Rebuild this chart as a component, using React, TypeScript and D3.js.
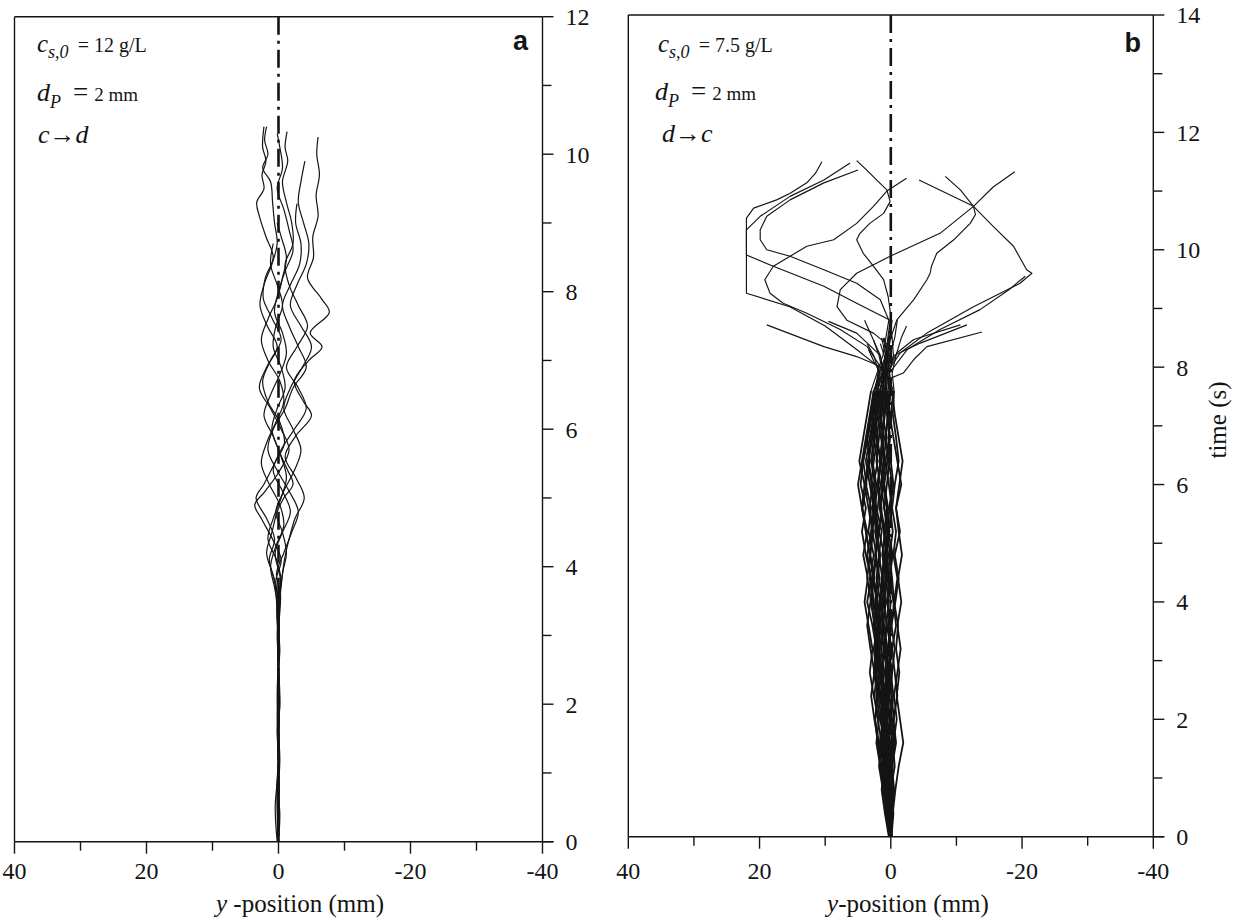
import React from "react";
import * as d3 from "d3";

const xMajorTicks = [40, 20, 0, -20, -40];
const xMinorTicks = [30, 10, -10, -30];
const yMajorTicksA = [0, 2, 4, 6, 8, 10, 12];
const yMinorTicksA = [1, 3, 5, 7, 9, 11];
const yMajorTicksB = [0, 2, 4, 6, 8, 10, 12, 14];
const yMinorTicksB = [1, 3, 5, 7, 9, 11, 13];

// panel a trajectories: [time (s), y-position (mm)]
const trajA1 = [[0,0.1],[0.4,-0.1],[0.8,0.2],[1.2,0],[1.6,0.2],[2.0,-0.1],[2.4,0.1],[2.8,-0.2],[3.2,0.2],[3.5,0.3],[3.8,0.6],[4.1,1.4],[4.4,0.6],[4.7,1.8],[5.0,3.4],[5.2,2.2],[5.5,0.6],[5.8,-0.9],[6.1,-0.2],[6.4,1.6],[6.7,2.4],[7.0,1.2],[7.3,-0.4],[7.6,0.9],[7.9,2.3],[8.2,2.0],[8.5,0.8],[8.8,1.9],[9.1,2.9],[9.3,3.3],[9.5,2.2],[9.7,2.5],[9.9,1.9],[10.1,2.4],[10.4,2.2]];
const trajA2 = [[0,0],[0.4,-0.2],[0.8,0.1],[1.2,-0.1],[1.6,0.1],[2.0,-0.2],[2.5,0.1],[3.0,-0.1],[3.5,-0.2],[3.8,-0.5],[4.1,-0.9],[4.4,-1.6],[4.7,-2.5],[5.0,-3.9],[5.3,-2.6],[5.6,-1.0],[5.9,-2.6],[6.2,-5.0],[6.4,-3.8],[6.7,-2.4],[7.0,-4.6],[7.2,-6.6],[7.4,-4.8],[7.7,-7.7],[7.9,-6.5],[8.2,-4.4],[8.5,-5.3],[8.8,-5.2],[9.1,-6.0],[9.4,-5.7],[9.7,-6.2],[10.0,-5.8],[10.25,-6.0]];
const trajA3 = [[0,0.1],[0.7,0.2],[1.4,-0.1],[2.1,0.2],[2.8,0],[3.4,0.2],[3.8,-0.3],[4.2,0.5],[4.5,-0.6],[4.8,-1.8],[5.1,-0.6],[5.4,0.8],[5.7,-0.4],[6.0,-2.4],[6.3,-4.2],[6.6,-3.0],[6.9,-1.2],[7.2,-2.8],[7.5,-4.4],[7.8,-3.0],[8.1,-1.6],[8.4,-1.0],[8.7,-2.2],[9.0,-2.0],[9.3,-1.2],[9.6,-0.6],[9.9,-1.4],[10.1,-1.0],[10.33,-1.3]];
const trajA4 = [[0,-0.1],[0.6,0.1],[1.2,-0.2],[1.8,0.1],[2.4,-0.1],[3.0,0.2],[3.5,0],[3.8,0.4],[4.1,-0.4],[4.4,0.9],[4.7,2.6],[4.9,3.6],[5.1,2.0],[5.4,-0.2],[5.7,-1.6],[6.0,-0.4],[6.3,1.2],[6.6,2.9],[6.9,1.8],[7.2,0.2],[7.5,1.7],[7.8,2.8],[8.1,2.2],[8.4,1.0],[8.7,0.2],[9.0,0.6],[9.3,0.9],[9.6,1.2],[9.8,2.4],[10.0,1.6],[10.2,2.1],[10.4,1.8]];
const trajA5 = [[0,0],[0.8,0.2],[1.6,-0.1],[2.4,0.1],[3.2,-0.1],[3.6,-0.3],[3.9,0.3],[4.2,-0.8],[4.5,-2.0],[4.8,-3.0],[5.1,-1.6],[5.4,0.2],[5.7,1.6],[6.0,0.8],[6.3,-1.0],[6.6,-2.2],[6.9,-4.2],[7.2,-3.0],[7.5,-1.6],[7.8,-0.6],[8.1,-1.8],[8.4,-3.2],[8.7,-3.4],[9.0,-2.6],[9.28,-2.8]];
const trajA6 = [[0,0.1],[0.9,-0.1],[1.8,0.2],[2.7,-0.1],[3.4,0.1],[3.7,0.6],[4.0,1.2],[4.3,0.4],[4.6,-0.8],[4.9,-0.2],[5.2,1.4],[5.5,2.6],[5.8,1.8],[6.1,0.4],[6.4,-0.8],[6.7,-0.2],[7.0,1.6],[7.3,2.6],[7.6,1.6],[7.9,0.2],[8.2,-0.6],[8.5,-1.2],[8.8,-0.4],[9.0,0.2]];
const trajA7 = [[0,0],[0.7,-0.1],[1.4,0.1],[2.1,-0.2],[2.8,0.1],[3.5,-0.1],[3.9,-0.6],[4.2,-1.2],[4.5,-0.6],[4.8,0.4],[5.1,-0.8],[5.4,-2.4],[5.7,-3.4],[6.0,-2.2],[6.3,-0.8],[6.6,-1.8],[6.9,-3.6],[7.2,-5.0],[7.5,-3.4],[7.8,-1.8],[8.1,-2.8],[8.4,-4.2],[8.7,-4.6],[9.0,-3.8],[9.3,-3.0],[9.6,-3.4],[9.9,-4.0]];
const trajA8 = [[0,0.2],[0.5,0.5],[1,0.1],[2,-0.1],[3,0.1],[3.6,0.2],[3.9,0.9],[4.2,1.8],[4.5,1.0],[4.8,0.2],[5.0,-0.8],[5.2,-2.2],[5.4,-1.4],[5.7,0.0],[6.0,1.0],[6.3,0.2],[6.6,-1.0],[6.9,-0.4],[7.2,0.8],[7.5,0.4],[7.8,-0.6],[8.1,0.2],[8.4,1.2],[8.7,0.8]];
const trajA9 = [[0,0],[1,-0.05],[2,0.1],[3,-0.1],[3.5,0.1],[3.8,-0.4],[4.1,0.3],[4.4,1.6],[4.7,0.8],[5.0,-0.4],[5.3,-1.2],[5.6,-0.4],[5.9,0.8],[6.2,2.2],[6.5,1.2],[6.8,-0.2],[7.1,-1.2],[7.4,-0.6],[7.7,0.6],[8.0,0.0],[8.3,-1.0],[8.6,-2.2],[8.9,-1.6],[9.2,-0.8],[9.5,0.2],[9.8,-0.6],[10.1,-0.2],[10.3,0.2]];
const trajectoriesA = [trajA1, trajA2, trajA3, trajA4, trajA5, trajA6, trajA7, trajA8, trajA9];

// panel b: the bundle, y-position (mm) at the times in gridB
const gridB = [0, 0.4, 0.8, 1.2, 1.6, 2.0, 2.4, 2.8, 3.2, 3.6, 4.0, 4.4, 4.8, 5.2, 5.6, 6.0, 6.4, 6.8, 7.2, 7.6];
const bundleB = [
  [0.0, 0.3, 0.8, 1.2, 1.0, 1.6, 2.2, 1.8, 2.4, 2.0, 2.8, 3.2, 2.6, 3.4, 3.0, 3.8, 3.2, 3.6, 3.0, 2.6],
  [0.1, -0.2, -0.5, -0.2, -0.8, -0.4, -1.0, -0.6, -0.2, -0.8, -0.4, 0.2, -0.3, 0.4, -0.2, 0.3, 0.8, 0.2, 0.6, 0.2],
  [0.2, 0.6, 0.4, 1.0, 1.4, 0.8, 1.2, 1.8, 1.4, 2.0, 1.6, 2.2, 1.8, 1.4, 2.2, 2.6, 2.0, 2.6, 2.2, 1.8],
  [0.0, 0.2, -0.1, 0.4, 0.1, 0.6, 0.2, 0.8, 0.4, 0.0, 0.6, 0.3, 0.9, 0.4, 1.0, 0.6, 0.2, 0.8, 0.4, 0.1],
  [0.3, 0.9, 1.4, 1.0, 1.8, 2.4, 2.0, 2.6, 2.2, 2.8, 3.6, 3.0, 3.8, 4.4, 3.8, 4.6, 4.2, 3.6, 3.0, 2.4],
  [-0.1, -0.4, 0.0, -0.6, -0.3, 0.2, -0.2, 0.4, 0.0, 0.6, 1.0, 0.6, 1.2, 0.8, 0.4, 1.0, 1.4, 1.0, 1.6, 1.2],
  [0.1, 0.5, 0.9, 0.6, 1.2, 1.0, 1.6, 1.2, 2.0, 1.6, 1.2, 1.8, 2.4, 2.0, 2.6, 2.2, 2.8, 2.4, 2.0, 1.6],
  [0.2, 0.0, 0.4, 0.8, 0.5, 1.0, 0.6, 0.2, 0.7, 1.2, 0.8, 1.4, 1.0, 1.8, 1.4, 2.0, 1.6, 1.2, 1.6, 1.0],
  [0.0, -0.3, -0.7, -1.2, -1.9, -1.4, -0.9, -1.3, -0.8, -1.1, -0.5, -1.0, -0.4, -0.8, -0.2, -0.6, -1.2, -0.8, -0.3, -0.5],
  [0.1, 0.4, 0.2, 0.6, 1.0, 1.5, 1.1, 1.6, 2.2, 1.8, 2.4, 2.0, 1.6, 2.2, 2.8, 2.4, 3.0, 2.6, 2.2, 1.6],
  [0.2, 0.7, 1.2, 1.8, 1.4, 2.0, 2.5, 2.1, 1.7, 2.3, 2.0, 2.6, 3.2, 2.8, 3.4, 4.0, 4.8, 4.2, 3.6, 3.0],
  [-0.2, 0.1, -0.3, 0.2, 0.6, 0.2, 0.8, 0.4, 1.0, 0.6, 1.2, 0.8, 0.4, 1.0, 0.6, 1.2, 0.8, 1.4, 1.0, 0.6],
  [0.1, 0.3, 0.6, 0.3, 0.8, 1.3, 0.9, 1.4, 1.0, 1.6, 2.1, 1.7, 2.3, 1.9, 2.5, 1.9, 1.5, 2.1, 1.7, 1.3],
  [0.0, 0.2, 0.5, 0.9, 1.4, 1.0, 1.6, 2.2, 2.6, 2.0, 2.6, 3.0, 3.6, 3.0, 2.6, 3.2, 3.8, 3.2, 2.6, 2.2],
  [0.1, -0.1, 0.3, 0.0, 0.4, 0.0, -0.4, 0.0, 0.4, 0.1, 0.5, 0.1, 0.7, 0.2, 0.6, 1.0, 0.5, 0.1, 0.5, 0.8],
  [0.2, 0.5, 0.2, 0.7, 0.4, 0.9, 1.4, 1.0, 1.5, 1.2, 1.7, 1.3, 1.8, 2.4, 2.0, 1.6, 2.2, 1.8, 1.4, 1.0],
  [0.0, 0.4, 0.8, 1.3, 0.9, 1.4, 1.9, 1.5, 1.1, 1.6, 1.2, 0.8, 1.3, 0.9, 1.5, 2.0, 1.6, 2.2, 2.8, 2.2],
  [0.1, 0.2, 0.0, 0.3, -0.2, 0.2, 0.6, 0.3, 0.8, 1.2, 0.8, 1.3, 0.9, 0.5, 1.0, 1.5, 1.1, 0.7, 1.2, 0.8],
  [0.2, 0.6, 1.0, 1.5, 2.0, 2.4, 1.9, 2.4, 2.0, 2.5, 3.0, 2.6, 3.1, 2.7, 3.2, 2.8, 3.4, 3.0, 2.6, 2.0],
  [0.0, -0.2, 0.1, -0.3, 0.0, -0.5, -0.1, 0.3, -0.1, 0.4, 0.0, 0.5, 0.1, 0.6, 0.2, -0.2, 0.3, 0.8, 0.4, 0.0],
  [0.1, 0.3, 0.7, 1.1, 0.7, 1.2, 0.8, 1.4, 1.9, 1.5, 2.0, 2.6, 2.2, 2.8, 2.4, 3.0, 2.6, 2.0, 2.4, 2.0],
  [0.2, 0.4, 0.1, 0.5, 0.9, 0.5, 1.0, 0.6, 1.1, 0.7, 0.3, 0.8, 0.4, 1.0, 1.6, 1.2, 1.7, 1.3, 0.9, 0.4],
  [0.0, 0.3, 0.6, 1.0, 1.5, 1.1, 1.7, 2.3, 1.9, 2.4, 3.0, 3.6, 3.2, 3.8, 4.4, 5.0, 4.4, 3.8, 3.2, 2.6],
  [0.1, 0.0, -0.4, -0.1, -0.6, -0.2, 0.2, -0.2, 0.3, -0.1, -0.5, -0.2, 0.2, -0.3, 0.1, -0.4, 0.0, 0.4, 0.0, -0.4],
  [0.1, 0.5, 1.1, 1.6, 2.2, 1.8, 2.6, 3.2, 2.8, 3.4, 4.0, 3.5, 4.2, 3.6, 4.4, 4.0, 3.4, 2.8, 2.2, 1.6],
  [0.0, -0.3, 0.2, -0.2, 0.3, 0.8, 0.3, -0.2, -0.6, -0.1, -0.7, -1.2, -0.6, -1.4, -0.8, -1.6, -1.0, -0.4, 0.2, 0.6],
  [0.2, 0.8, 0.5, 1.1, 1.7, 1.2, 0.8, 1.3, 1.9, 2.6, 2.1, 2.8, 2.3, 1.8, 2.4, 2.9, 3.5, 2.9, 2.3, 1.4],
  [0.1, 0.2, 0.6, 0.2, -0.3, 0.1, 0.5, 0.9, 0.5, 1.0, 1.5, 1.1, 0.6, 1.1, 1.7, 1.3, 0.9, 1.5, 2.0, 1.2],
  [0.0, 0.5, 1.0, 1.4, 1.9, 2.5, 3.0, 2.5, 3.1, 3.6, 3.1, 2.6, 3.2, 3.8, 4.3, 3.7, 4.2, 3.5, 2.8, 2.0],
  [0.1, -0.1, -0.3, 0.1, -0.4, -0.9, -0.5, -1.0, -1.5, -1.0, -1.6, -1.1, -1.7, -1.2, -0.8, -1.3, -1.8, -1.2, -0.6, -0.2],
];
// panel b: what each bundle trajectory does after 7.6 s, [time, y-position]
const tailsB = [
  [[8.2,0.8],[8.8,0.1],[9.09,5.2],[9.38,10.2],[9.72,17.9],[9.91,22.0],[10.34,22.0],[10.57,19.9],[10.91,15.35],[11.19,10.2],[11.48,6.2]],
  [[7.9,0.6],[8.24,-1.4],[8.58,-5.5],[9.03,-12.6],[9.43,-19.7],[9.6,-21.5],[9.66,-20.7],[10.06,-18.7],[10.4,-15.6],[10.74,-12.6],[11.19,-4.3]],
  [[7.8,1.0],[8.2,1.6],[8.58,5.2],[8.78,9.5]],
  [[8.2,0.8],[8.8,-0.1],[9.2,0.4],[9.49,1.1],[9.72,2.65],[9.94,4.2],[10.17,5.2],[10.28,4.7],[10.45,3.2],[10.62,1.1],[10.82,0.1],[11.02,0.6],[11.16,1.9],[11.36,3.7],[11.52,5.2]],
  [[8.0,1.8],[8.3,5.2],[8.7,10.0],[9.03,15.4],[9.26,22.0],[9.6,22.0],[10.0,22.0],[10.54,22.0],[10.71,20.9],[10.85,17.4],[10.96,15.4],[11.14,12.8],[11.3,11.5],[11.5,10.5]],
  [[8.0,0.8],[8.47,0.1],[8.8,-0.9],[9.15,-3.5],[9.49,-5.5],[9.6,-6.0],[9.72,-6.2],[9.94,-7.0],[10.17,-9.6],[10.45,-12.1],[10.6,-12.9],[10.74,-12.6],[11.02,-10.6],[11.25,-8.3]],
  [[7.9,1.2],[8.2,0.8],[8.5,1.4]],
  [[7.9,0.6],[8.2,0.2],[8.4,-0.4]],
  [[7.9,-0.2],[8.2,-0.8],[8.5,-1.6],[8.7,-2.4]],
  [[7.9,1.2],[8.2,1.8],[8.45,2.6]],
  [[8.2,1.2],[8.8,0.3],[9.15,1.6],[9.43,5.2],[9.66,10.2],[9.89,15.35],[10.0,18.9],[10.17,19.9],[10.34,19.9],[10.57,18.9],[10.85,15.35],[11.14,10.2],[11.36,5.0]],
  [[7.9,0.5],[8.24,-0.9],[8.47,-3.5],[8.72,-10.6]],
  [[7.9,1.0],[8.2,0.6],[8.5,0.2],[8.8,-0.2]],
  [[8.01,1.6],[8.35,3.6],[8.64,7.7],[8.92,12.8],[9.09,16.4],[9.26,18.4],[9.49,19.2],[9.72,17.9],[9.89,15.35],[10.06,12.8],[10.17,8.7],[10.45,5.2],[10.74,2.65],[11.0,0.6],[11.22,-2.4]],
  [[7.9,0.8],[8.2,-0.5],[8.41,-4.5],[8.72,-11.6]],
  [[7.9,0.6],[8.2,1.0],[8.4,1.6]],
  [[7.9,1.8],[8.2,2.6],[8.4,3.6]],
  [[7.9,0.4],[8.3,0.0]],
  [[7.9,1.2],[8.35,0.1],[8.58,2.65],[8.8,6.7],[9.03,8.2],[9.32,7.7],[9.6,5.2],[9.89,0.1],[10.28,-7.5],[10.74,-12.6],[11.07,-15.6],[11.33,-18.9]],
  [[7.9,0.2],[8.3,-2.5],[8.64,-7.5],[8.98,-13.6],[9.32,-18.0],[9.55,-20.5]],
  [[7.9,1.6],[8.1,2.6],[8.3,3.4]],
  [[7.9,0.2],[8.2,-0.4],[8.5,-0.2],[8.8,0.1]],
  [[7.9,1.2],[8.01,1.6],[8.18,5.2],[8.35,10.2],[8.72,18.9]],
  [[7.8,0.3],[7.9,-1.9],[8.13,-3.5],[8.35,-5.5],[8.6,-13.9]],
  [[7.9,1.0],[8.2,0.2],[8.5,-0.6],[8.8,-1.0]],
  [[7.9,1.0],[8.2,1.6],[8.5,2.8],[8.8,4.0]],
  [[7.9,0.8],[8.2,0.4],[8.5,1.2]],
  [[7.9,0.8],[8.2,0.4],[8.6,0.0]],
  [[7.9,1.4],[8.2,0.8],[8.5,0.3]],
  [[7.9,0.2],[8.2,0.6],[8.5,1.0]],
];
// bundle part and tail part of each panel-b trajectory (tail starts at the last bundle point)
const bundlePathsB = bundleB.map((row) => gridB.map((t, j) => [t, row[j]]));
const tailPathsB = bundleB.map((row, i) =>
  [[gridB[gridB.length - 1], row[row.length - 1]]].concat(tailsB[i])
);

const SERIF = "Liberation Serif, Times New Roman, serif";
const SANS = "Liberation Sans, Arial, sans-serif";
const INK = "#141414";

type TrajGroup = { paths: number[][][]; width: number; smooth: boolean };

type PanelProps = {
  left: number;
  right: number;
  top: number;
  bottom: number;
  yMax: number;
  majors: number[];
  minors: number[];
  groups: TrajGroup[];
  labelBaseline: number;
  xTitle: string;
  xTitleX: number;
};

function Panel(p: PanelProps) {
  const x = d3.scaleLinear().domain([40, -40]).range([p.left, p.right]);
  const y = d3.scaleLinear().domain([0, p.yMax]).range([p.bottom, p.top]);
  const mkLine = (smooth: boolean) =>
    d3
      .line<number[]>()
      .x((d) => x(d[1]))
      .y((d) => y(d[0]))
      .curve(smooth ? d3.curveCatmullRom.alpha(0.5) : d3.curveLinear);

  return (
    <g>
      {/* trajectories */}
      {p.groups.map((g, gi) => {
        const line = mkLine(g.smooth);
        return (
          <g key={gi} fill="none" stroke={INK} strokeWidth={g.width} strokeLinejoin="round">
            {g.paths.map((tr, i) => (
              <path key={i} d={line(tr) || ""} />
            ))}
          </g>
        );
      })}
      {/* centre line */}
      <line
        x1={x(0)}
        x2={x(0)}
        y1={p.top}
        y2={p.bottom}
        stroke={INK}
        strokeWidth={2.6}
        strokeDasharray="18 6 3 6"
      />
      {/* frame */}
      <g stroke={INK} strokeWidth={1.4} fill="none">
        <line x1={p.left} x2={p.right} y1={p.top} y2={p.top} />
        <line x1={p.left} x2={p.left} y1={p.top} y2={p.bottom} />
        <line x1={p.right} x2={p.right} y1={p.top} y2={p.bottom} />
        <line x1={p.left} x2={p.right + 11} y1={p.bottom} y2={p.bottom} />
        {xMajorTicks.map((v) => (
          <line key={"xm" + v} x1={x(v)} x2={x(v)} y1={p.bottom} y2={p.bottom + 12} />
        ))}
        {xMinorTicks.map((v) => (
          <line key={"xn" + v} x1={x(v)} x2={x(v)} y1={p.bottom} y2={p.bottom + 9} />
        ))}
        {p.majors.map((v) => (
          <line key={"ym" + v} x1={p.right} x2={p.right + 11} y1={y(v)} y2={y(v)} />
        ))}
        {p.minors.map((v) => (
          <line key={"yn" + v} x1={p.right} x2={p.right + 9} y1={y(v)} y2={y(v)} />
        ))}
      </g>
      <g fill={INK}>
        {xMajorTicks.map((v) => (
          <text key={"xl" + v} x={x(v)} y={p.labelBaseline} textAnchor="middle" fontFamily={SERIF} fontSize={24}>
            {String(v)}
          </text>
        ))}
        {p.majors.map((v) => (
          <text key={"yl" + v} x={p.right + 23} y={y(v)} dy="0.35em" fontFamily={SERIF} fontSize={24}>
            {String(v)}
          </text>
        ))}
        <text x={p.xTitleX} y={912} textAnchor="middle" fontFamily={SERIF} fontSize={25}>
          <tspan fontStyle="italic">y</tspan>
          <tspan>{p.xTitle}</tspan>
        </text>
      </g>
    </g>
  );
}

export default function App() {
  return (
    <div style={{ position: "absolute", left: 0, top: 0 }}>
      <svg width={1244} height={922} style={{ display: "block", background: "#fff" }}>
        <Panel
          left={14.5}
          right={542.5}
          top={16.7}
          bottom={841.7}
          yMax={12}
          majors={yMajorTicksA}
          minors={yMinorTicksA}
          groups={[{ paths: trajectoriesA, width: 1.2, smooth: true }]}
          labelBaseline={879}
          xTitle=" -position (mm)"
          xTitleX={300}
        />
        <Panel
          left={628.3}
          right={1153.3}
          top={15}
          bottom={836.7}
          yMax={14}
          majors={yMajorTicksB}
          minors={yMinorTicksB}
          groups={[
            { paths: bundlePathsB, width: 1.8, smooth: false },
            { paths: tailPathsB, width: 1.15, smooth: false },
          ]}
          labelBaseline={879}
          xTitle="-position (mm)"
          xTitleX={908}
        />

        <g fontFamily={SERIF} fill={INK}>
          {/* panel a annotations */}
          <text x={37} y={52}>
            <tspan fontStyle="italic" fontSize={25}>c</tspan>
            <tspan fontStyle="italic" fontSize={18} dy={6}>s,0</tspan>
            <tspan fontSize={20} dy={-6} dx={9}>= 12 g/L</tspan>
          </text>
          <text x={37} y={101}>
            <tspan fontStyle="italic" fontSize={26}>d</tspan>
            <tspan fontStyle="italic" fontSize={18} dy={7}>P</tspan>
            <tspan fontSize={27} dy={-7} dx={12}>=</tspan>
            <tspan fontSize={19} dx={6}>2 mm</tspan>
          </text>
          <text x={38} y={143} fontSize={26}>
            <tspan fontStyle="italic">c</tspan>
            <tspan>→</tspan>
            <tspan fontStyle="italic">d</tspan>
          </text>

          {/* panel b annotations */}
          <text x={658} y={52}>
            <tspan fontStyle="italic" fontSize={25}>c</tspan>
            <tspan fontStyle="italic" fontSize={18} dy={6}>s,0</tspan>
            <tspan fontSize={20} dy={-6} dx={9}>= 7.5 g/L</tspan>
          </text>
          <text x={655} y={100}>
            <tspan fontStyle="italic" fontSize={26}>d</tspan>
            <tspan fontStyle="italic" fontSize={18} dy={7}>P</tspan>
            <tspan fontSize={27} dy={-7} dx={12}>=</tspan>
            <tspan fontSize={19} dx={6}>2 mm</tspan>
          </text>
          <text x={662} y={142} fontSize={26}>
            <tspan fontStyle="italic">d</tspan>
            <tspan>→</tspan>
            <tspan fontStyle="italic">c</tspan>
          </text>

          <text
            transform="translate(1226,420) rotate(-90)"
            textAnchor="middle"
            fontSize={25}
          >
            time (s)
          </text>
        </g>

        <g fontFamily={SANS} fontWeight="bold" fill={INK} fontSize={27} textAnchor="end">
          <text x={528} y={50}>a</text>
          <text x={1141} y={52}>b</text>
        </g>
      </svg>
    </div>
  );
}
